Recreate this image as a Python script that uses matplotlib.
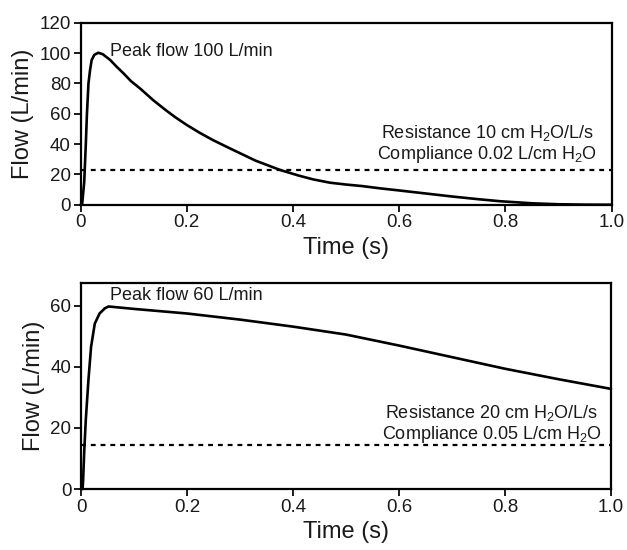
import matplotlib
matplotlib.use("Agg")
import matplotlib.pyplot as plt

plt.rcParams['font.family'] = ['Liberation Sans', 'DejaVu Sans']
plt.rcParams['mathtext.default'] = 'regular'

# Top panel data
time_top = [0, 0.003, 0.007, 0.010, 0.012, 0.015, 0.018, 0.021, 0.026, 0.0335, 0.042,
            0.056, 0.068, 0.081, 0.095, 0.112, 0.137, 0.160, 0.178, 0.200, 0.225,
            0.250, 0.281, 0.330, 0.376, 0.410, 0.438, 0.470, 0.500, 0.530, 0.564,
            0.600, 0.650, 0.700, 0.750, 0.790, 0.852, 0.900, 0.950, 1.000]
flow_top = [0, 0, 15, 40, 59, 80, 88.8, 95.4, 98.8, 100.2, 99.2, 95.4, 91.0, 86.6,
            81.5, 76.7, 68.9, 62.5, 57.8, 52.6, 47.3, 42.5, 37.2, 29.0, 22.9, 19.3,
            16.7, 14.5, 13.3, 12.3, 10.8, 9.4, 7.4, 5.4, 3.6, 2.3, 0.9, 0.3, 0.05, 0]
threshold_top = 23

# Bottom panel data
time_bot = [0, 0.003, 0.004, 0.006, 0.009, 0.014, 0.019, 0.026, 0.035, 0.045,
            0.052, 0.100, 0.200, 0.300, 0.400, 0.500, 0.600, 0.700, 0.800, 0.900, 1.000]
flow_bot = [0, 0, 3, 12, 22.6, 35.7, 46.6, 54.2, 57.5, 59.2, 59.8, 59.0, 57.5,
            55.5, 53.2, 50.6, 47.0, 43.2, 39.4, 36.0, 32.8]
threshold_bot = 14.5

xticks = [0, 0.2, 0.4, 0.6, 0.8, 1.0]
xticklabels = ['0', '0.2', '0.4', '0.6', '0.8', '1.0']
yticks_top = [0, 20, 40, 60, 80, 100, 120]
yticks_bot = [0, 20, 40, 60]

fig = plt.figure(figsize=(6.27, 5.5), dpi=100)
ax1 = fig.add_axes([0.1284, 0.6278, 0.8469, 0.3309])
ax2 = fig.add_axes([0.1292, 0.1109, 0.8453, 0.3746])

def style(ax, yticks, ylim):
    ax.set_xlim(0, 1.0)
    ax.set_ylim(*ylim)
    ax.set_xticks(xticks)
    ax.set_xticklabels(xticklabels)
    ax.set_yticks(yticks)
    for s in ax.spines.values():
        s.set_linewidth(1.6)
    ax.tick_params(direction='out', length=5, width=1.4, labelsize=13.5,
                   top=False, right=False, pad=2, colors='#1a1a1a')
    ax.set_xlabel('Time (s)', fontsize=17, labelpad=4, color='#1a1a1a')
    ax.set_ylabel('Flow (L/min)', fontsize=17, labelpad=4, color='#1a1a1a')

ax1.plot(time_top, flow_top, color='black', lw=1.9, solid_joinstyle='round',
         solid_capstyle='round', clip_on=False)
ax1.axhline(threshold_top, color='black', lw=1.6, linestyle=(0, (2.2, 2.2)))
style(ax1, yticks_top, (0, 120))
ax1.text(0.056, 101, 'Peak flow 100 L/min', fontsize=13, ha='left', va='center',
         color='#1a1a1a')
ax1.text(0.766, 40.0, 'Resistance 10 cm H$_2$O/L/s\nCompliance 0.02 L/cm H$_2$O',
         fontsize=13, ha='center', va='center', linespacing=1.05, color='#1a1a1a')

ax2.plot(time_bot, flow_bot, color='black', lw=1.9, solid_joinstyle='round',
         solid_capstyle='round', clip_on=False)
ax2.axhline(threshold_bot, color='black', lw=1.6, linestyle=(0, (2.2, 2.2)))
style(ax2, yticks_bot, (0, 67.5))
ax2.text(0.055, 63.5, 'Peak flow 60 L/min', fontsize=13, ha='left', va='center',
         color='#1a1a1a')
ax2.text(0.775, 21.3, 'Resistance 20 cm H$_2$O/L/s\nCompliance 0.05 L/cm H$_2$O',
         fontsize=13, ha='center', va='center', linespacing=1.05, color='#1a1a1a')

fig.savefig('out.png', dpi=100)
